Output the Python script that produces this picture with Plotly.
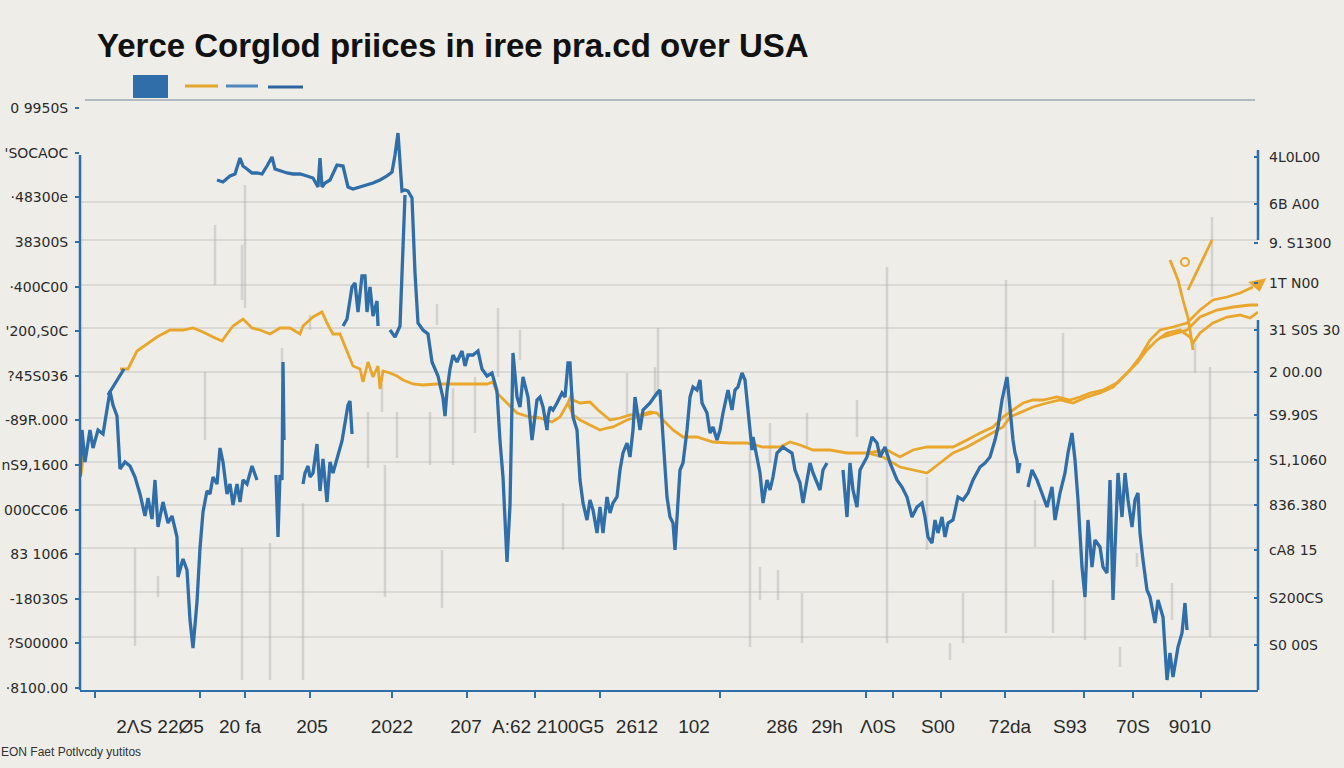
import plotly.graph_objects as go

BG = '#eeede8'
BLUE = '#2f6ea8'
ORANGE = '#e9a62a'
GRID = '#d3d2cd'
TXT = '#2b2b2b'

# ---------- data (time index on x, price level on y) ----------
blue_a_x = [0, 2, 5, 10, 13, 18, 23, 30, 33, 37, 40, 45, 50, 55, 60, 65, 68, 72, 75, 78, 83, 88, 92, 97, 98, 103, 107, 110, 113, 117,
            120, 123, 127, 130, 133, 137, 140, 143, 147, 150, 153, 157, 160, 163, 167, 172, 177]
blue_a_y = [213, 260, 228, 260, 242, 260, 256, 299, 285, 274, 221, 228, 224, 213, 196, 174, 192, 171, 210, 163, 188, 167, 174, 153, 113, 131, 120, 70, 42, 88,
            142, 178, 199, 196, 213, 206, 242, 228, 196, 206, 185, 206, 188, 210, 206, 224, 210]
blue_b_x = [28, 36, 44]
blue_b_y = [295, 308, 321]
blue_c_x = [196, 198, 200, 202, 203, 204]
blue_c_y = [215, 153, 215, 210, 328, 250]
blue_d_x = [223, 225, 228, 230, 233, 237, 240, 243, 247, 250, 253, 257, 262, 265, 268, 270, 272]
blue_d_y = [206, 217, 224, 213, 217, 246, 199, 231, 188, 228, 217, 231, 249, 267, 285, 289, 256]
blue_e_x = [263, 267, 272, 275, 278, 282, 285, 287, 290, 293, 297, 298]
blue_e_y = [364, 371, 403, 407, 378, 414, 414, 378, 403, 374, 389, 364]
blue_f_x = [310, 315, 320, 323, 325]
blue_f_y = [360, 353, 364, 440, 495]
blue_main_x = [137, 143, 150, 155, 160, 163, 167, 172, 177, 182,
               187, 192, 195, 200, 207, 213, 220, 227, 233, 238,
               240, 242, 245, 250, 257, 263, 268, 273, 280, 287,
               293, 300, 307, 312, 315, 318, 322, 325, 328, 332,
               335, 338, 343, 348, 352, 355, 358, 363, 365, 367,
               370, 373, 377, 382, 385, 388, 393, 398, 402, 407,
               412, 417, 420, 423, 427, 430, 433, 437, 440, 443,
               448, 452, 457, 460, 463, 467, 468, 470, 473, 477,
               482, 485, 488, 490, 492, 493, 497, 500, 503, 507,
               510, 513, 517, 520, 523, 527, 530, 533, 537, 540,
               543, 547, 550, 553, 555, 558, 560, 563, 570, 577,
               580, 583, 587, 590, 593, 595, 597, 600, 603, 607,
               610, 613, 617, 620, 622, 627, 630, 633, 637, 640,
               643, 648, 652, 655, 658, 662, 665, 667, 670, 672,
               673, 677, 680, 683, 687, 690, 693, 697, 700, 703,
               707, 712, 715, 720, 723, 727, 730, 733, 737, 740,
               743, 747]
blue_main_y = [510, 508, 514, 516, 532, 524, 521, 517, 517, 516,
               524, 533, 521, 519, 517, 516, 516, 514, 512, 503,
               532, 503, 507, 510, 525, 524, 503, 501, 503, 505,
               507, 510, 514, 518, 535, 557, 499, 500, 499, 492,
               417, 367, 360, 356, 328, 321, 314, 292, 274, 299,
               321, 335, 328, 339, 324, 335, 335, 339, 321, 314,
               317, 299, 249, 213, 128, 185, 337, 293, 283, 313,
               293, 250, 290, 293, 283, 260, 273, 283, 280, 287,
               297, 293, 327, 327, 293, 273, 260, 210, 187, 170,
               190, 180, 157, 183, 157, 193, 177, 187, 193, 220,
               237, 247, 233, 260, 293, 273, 260, 280, 287, 297,
               300, 253, 193, 173, 167, 140, 173, 220, 227, 260,
               293, 303, 300, 310, 287, 277, 257, 263, 250, 260,
               277, 300, 280, 300, 303, 317, 310, 290, 260, 240,
               253, 233, 217, 187, 210, 200, 213, 237, 240, 243,
               240, 237, 220, 207, 187, 210, 227, 217, 207, 200,
               220, 227]
blue_g_x = [763, 767, 770, 773, 777, 780, 787, 792, 797, 800, 805, 810, 817, 822, 827, 832, 837, 842, 845, 848,
            852, 855, 858, 862, 865, 868, 873, 878, 883, 888, 893, 900, 905, 910, 915, 918, 922, 925, 927, 928,
            930, 932, 933, 935, 937, 938, 940]
blue_g_y = [220, 173, 227, 200, 183, 220, 233, 253, 247, 233, 243, 227, 210, 203, 193, 173, 183, 187, 173, 153,
            147, 170, 157, 173, 153, 167, 170, 193, 190, 197, 210, 223, 227, 233, 250, 263, 290, 303, 313, 303,
            283, 257, 250, 237, 230, 217, 227]
blue_h_x = [948, 952, 957, 962, 967, 972, 975, 980, 985, 988, 992, 995, 998, 1002, 1005, 1008, 1012, 1015, 1020, 1023,
            1027, 1030, 1033, 1038, 1042, 1045, 1048, 1052, 1055, 1058, 1060, 1063, 1067, 1070, 1075, 1078, 1083, 1087,
            1090, 1093, 1098, 1102, 1105, 1107]
blue_h_y = [203, 220, 210, 197, 183, 203, 170, 197, 217, 237, 257, 230, 190, 123, 93, 170, 123, 150, 143, 123,
            117, 210, 90, 217, 173, 217, 190, 163, 190, 197, 157, 130, 100, 93, 67, 90, 73, 10,
            37, 13, 43, 57, 87, 60]

orange_a_x = [40, 48, 57, 67, 77, 90, 103, 113, 123, 133, 142, 147, 153, 163, 172, 180, 190, 200, 210, 220,
              223, 233, 242, 247, 253, 260, 267, 273, 280, 283, 288, 293, 298, 300, 303, 310, 317, 323, 333, 343,
              357, 370, 383, 397, 407, 413, 417, 427, 437, 450, 460, 472, 480, 488, 492, 493, 500, 510, 518, 530,
              540, 550, 560, 570, 577, 583, 593, 603, 617, 633, 650, 667, 683, 700, 710, 720, 733, 750, 767, 787,
              803, 820, 833, 847, 860, 873, 887, 900, 913, 923, 930, 940, 953, 967, 980, 993, 1007, 1020, 1033, 1047,
              1057, 1067, 1077, 1087, 1100, 1110, 1113, 1120, 1133, 1147, 1160, 1170, 1178]
orange_a_y = [321, 321, 339, 346, 353, 360, 360, 362, 358, 353, 349, 356, 364, 371, 362, 360, 356, 362, 362, 356,
              364, 373, 378, 367, 356, 356, 339, 324, 321, 308, 328, 313, 324, 301, 319, 317, 314, 310, 306, 305,
              306, 306, 306, 306, 306, 308, 297, 287, 277, 273, 272, 268, 273, 287, 297, 290, 287, 288, 280, 270,
              272, 275, 275, 278, 277, 270, 260, 253, 253, 248, 247, 247, 243, 243, 248, 245, 240, 240, 237, 237,
              233, 223, 220, 217, 227, 237, 243, 250, 257, 263, 273, 277, 283, 287, 290, 287, 293, 297, 303, 317,
              327, 340, 350, 357, 360, 353, 347, 357, 367, 373, 375, 372, 378]
orange_b_x = [488, 493, 500, 510, 520, 527, 533, 547, 557, 573]
orange_b_y = [287, 275, 270, 265, 260, 262, 263, 270, 273, 277]
orange_c_x = [787, 807, 820, 833, 847, 860, 873, 887, 900, 913, 923, 933, 943, 953, 963, 977, 990, 1000, 1010, 1023,
              1037, 1050, 1060, 1070, 1080, 1093, 1107, 1120, 1133, 1147, 1160, 1173]
orange_c_y = [237, 240, 233, 240, 243, 243, 243, 250, 257, 263, 273, 280, 287, 290, 290, 293, 290, 293, 297, 300,
              307, 320, 333, 350, 360, 363, 367, 380, 390, 393, 397, 403]
orange_d_x = [1080, 1107, 1120, 1137, 1153, 1170, 1178]
orange_d_y = [352, 360, 373, 380, 383, 385, 385]
orange_s1_x = [1090, 1098, 1103, 1108, 1110, 1113]
orange_s1_y = [430, 410, 390, 372, 360, 340]
orange_s2_x = [1108, 1132]
orange_s2_y = [400, 450]
orange_stub_x = [0, 3, 1]
orange_stub_y = [250, 232, 215]
orange_dot_x = [1105]
orange_dot_y = [428]
arrow_x = [1178]
arrow_y = [406]

grey_x = [135, 165, 162, 125, 55, 78, 162, 190, 202, 223, 230, 288, 302, 305, 317, 350, 357, 362, 373, 395,
          418, 807, 578, 547, 575, 690, 727, 777, 670, 680, 698, 722, 847, 870, 483, 926, 983, 955, 973, 1005,
          883, 1040, 1092, 1130, 1132, 1115, 1057, 440]
grey_lo = [405, 382, 390, 250, 44, 93, 10, 10, 313, 10, 360, 222, 278, 93, 232, 225, 365, 82, 225, 257,
           313, 47, 293, 273, 293, 227, 243, 253, 43, 90, 90, 47, 140, 30, 140, 57, 290, 143, 57, 50,
           47, 23, 70, 53, 393, 317, 123, 330]
grey_hi = [465, 505, 445, 318, 142, 114, 142, 147, 342, 187, 375, 278, 306, 225, 278, 278, 386, 140, 302, 313,
           382, 423, 362, 317, 323, 267, 277, 290, 247, 123, 120, 97, 213, 47, 187, 410, 357, 190, 110, 113,
           97, 43, 107, 323, 473, 347, 137, 360]

grid_levels = [488, 450, 405, 362, 318, 272, 228, 185, 142, 98, 53]

left_tick_vals = [582, 537, 493, 448, 403, 359, 314, 270, 225, 180, 136, 91, 47, 2]
left_labels = ["0 9950S", "'SOCAOC", "·48300e", "38300S", "·400C00", "'200,S0C", "?45S036",
               "-89R.000", "nS9,1600", "000CC06", "83 1006", "-18030S", "?S00000", "·8100.00"]
right_tick_vals = [533, 486, 447, 407, 360, 318, 275, 230, 185, 140, 92, 45]
right_labels = ["4L0L00", "6B A00", "9. S1300", "1T N00", "31 S0S 30", "2 00.00", "S9.90S",
                "S1,1060", "836.380", "cA8 15", "S200CS", "S0 00S"]
x_label_pos = [80, 160, 232, 312, 386, 468, 557, 614, 702, 747, 798, 858, 930, 990, 1053, 1110]
x_labels = ["2ΛS 22Ø5", "20 fa", "205", "2022", "207", "A:62 2100G5", "2612", "102", "286", "29h",
            "Λ0S", "S00", "72da", "S93", "70S", "9010"]
x_tick_marks = [15, 120, 165, 230, 312, 387, 455, 520, 640, 786, 813, 861, 925, 1004, 1053, 1121]

TITLE = "Yerce Corglod priices in iree pra.cd over USA"
FOOTER = "EON Faet Potlvcdy yutitos"

# ---------- figure ----------
W, H = 1344, 768
ML, MR, MT, MB = 80, 86, 100, 78


def pxx(p):
    return (p - ML) / (W - ML - MR)


def pxy(p):
    return (H - MB - p) / (H - MT - MB)


def join(xs_list, ys_list):
    X, Y = [], []
    for xs, ys in zip(xs_list, ys_list):
        X += list(xs) + [None]
        Y += list(ys) + [None]
    return X, Y


fig = go.Figure()

# faint grey wicks
gx, gy = [], []
for x, lo, hi in zip(grey_x, grey_lo, grey_hi):
    gx += [x, x, None]
    gy += [lo, hi, None]
fig.add_trace(go.Scatter(x=gx, y=gy, mode='lines', line=dict(color='rgba(170,170,170,0.4)', width=2.5),
                         hoverinfo='skip'))

ox, oy = join([orange_a_x, orange_b_x, orange_c_x, orange_d_x, orange_s1_x, orange_s2_x, orange_stub_x],
              [orange_a_y, orange_b_y, orange_c_y, orange_d_y, orange_s1_y, orange_s2_y, orange_stub_y])
fig.add_trace(go.Scatter(x=ox, y=oy, mode='lines', line=dict(color=ORANGE, width=2.8), hoverinfo='skip'))

bx, by = join([blue_a_x, blue_b_x, blue_c_x, blue_d_x, blue_e_x, blue_f_x, blue_main_x, blue_g_x, blue_h_x],
              [blue_a_y, blue_b_y, blue_c_y, blue_d_y, blue_e_y, blue_f_y, blue_main_y, blue_g_y, blue_h_y])
fig.add_trace(go.Scatter(x=bx, y=by, mode='lines', line=dict(color=BLUE, width=3.3), hoverinfo='skip'))

fig.add_trace(go.Scatter(x=orange_dot_x, y=orange_dot_y, mode='markers', cliponaxis=False,
                         marker=dict(symbol='circle-open', size=8, color=ORANGE, line=dict(width=2, color=ORANGE)),
                         hoverinfo='skip'))
fig.add_trace(go.Scatter(x=arrow_x, y=arrow_y, mode='markers', cliponaxis=False,
                         marker=dict(symbol='triangle-down', size=16, color=ORANGE, angle=-12),
                         hoverinfo='skip'))
# dummy trace for right axis
fig.add_trace(go.Scatter(x=[None], y=[None], yaxis='y2', hoverinfo='skip'))

shapes = []
for g in grid_levels:
    shapes.append(dict(type='line', xref='paper', yref='y', x0=0, x1=1, y0=g, y1=g,
                       line=dict(color=GRID, width=1.6), layer='below'))
# top rule
shapes.append(dict(type='line', xref='paper', yref='paper', x0=pxx(85), x1=pxx(1255), y0=1, y1=1,
                   line=dict(color='#9ea8b6', width=1.5)))
# left spine
shapes.append(dict(type='line', xref='paper', yref='paper', x0=0, x1=0, y0=pxy(155), y1=0,
                   line=dict(color=BLUE, width=2.5)))
# right spine (two pieces)
shapes.append(dict(type='line', xref='paper', yref='paper', x0=1, x1=1, y0=pxy(150), y1=pxy(240),
                   line=dict(color=BLUE, width=2.5)))
shapes.append(dict(type='line', xref='paper', yref='paper', x0=1, x1=1, y0=pxy(320), y1=0,
                   line=dict(color=BLUE, width=2.5)))
# legend swatches
shapes.append(dict(type='rect', xref='paper', yref='paper', x0=pxx(133), x1=pxx(168), y0=pxy(98), y1=pxy(75),
                   fillcolor=BLUE, line=dict(width=0)))
shapes.append(dict(type='line', xref='paper', yref='paper', x0=pxx(185), x1=pxx(218), y0=pxy(86), y1=pxy(86),
                   line=dict(color='#e3a52a', width=3)))
shapes.append(dict(type='line', xref='paper', yref='paper', x0=pxx(226), x1=pxx(258), y0=pxy(86), y1=pxy(86),
                   line=dict(color='#4f88bf', width=3)))
shapes.append(dict(type='line', xref='paper', yref='paper', x0=pxx(268), x1=pxx(303), y0=pxy(87), y1=pxy(87),
                   line=dict(color='#2d64a0', width=3)))

annotations = [
    dict(text=TITLE, xref='paper', yref='paper', x=pxx(95), y=pxy(45), xanchor='left', yanchor='middle',
         showarrow=False, font=dict(family='Liberation Sans', size=33, color='#111111', weight=700)),
    dict(text=FOOTER, xref='paper', yref='paper', x=pxx(-1), y=pxy(752), xanchor='left', yanchor='middle',
         showarrow=False, font=dict(family='Liberation Sans', size=12, color='#333333')),
]

fig.update_layout(
    width=W, height=H,
    margin=dict(l=ML, r=MR, t=MT, b=MB, autoexpand=False),
    paper_bgcolor=BG, plot_bgcolor=BG,
    showlegend=False,
    shapes=shapes, annotations=annotations,
    xaxis=dict(range=[0, 1178], tickmode='array', tickvals=x_label_pos, ticktext=x_labels, automargin=False,
               ticks='', showgrid=False, zeroline=False, showline=True, linecolor=BLUE, linewidth=2,
               tickfont=dict(family='Liberation Sans', size=19, color=TXT), ticklabelstandoff=18,
               minor=dict(tickmode='array', tickvals=x_tick_marks, ticks='outside', ticklen=6,
                          tickwidth=2, tickcolor=BLUE, showgrid=False)),
    yaxis=dict(range=[0, 590], tickmode='array', tickvals=left_tick_vals, ticktext=left_labels, automargin=False,
               ticks='outside', ticklen=4, tickwidth=1.5, tickcolor=BLUE, showgrid=False, zeroline=False,
               showline=False, tickfont=dict(family='DejaVu Sans', size=14, color=TXT), ticklabelstandoff=4),
    yaxis2=dict(range=[0, 590], overlaying='y', side='right', tickmode='array', tickvals=right_tick_vals,
                ticktext=right_labels, ticks='inside', ticklen=4, tickwidth=1.5, tickcolor=BLUE, automargin=False,
                showgrid=False, zeroline=False, showline=False,
                tickfont=dict(family='DejaVu Sans', size=14, color=TXT), ticklabelstandoff=10),
)

fig.write_html("out.html", config={'displayModeBar': False},
               post_script="document.body.style.margin='0';document.body.style.background='%s';" % BG)
